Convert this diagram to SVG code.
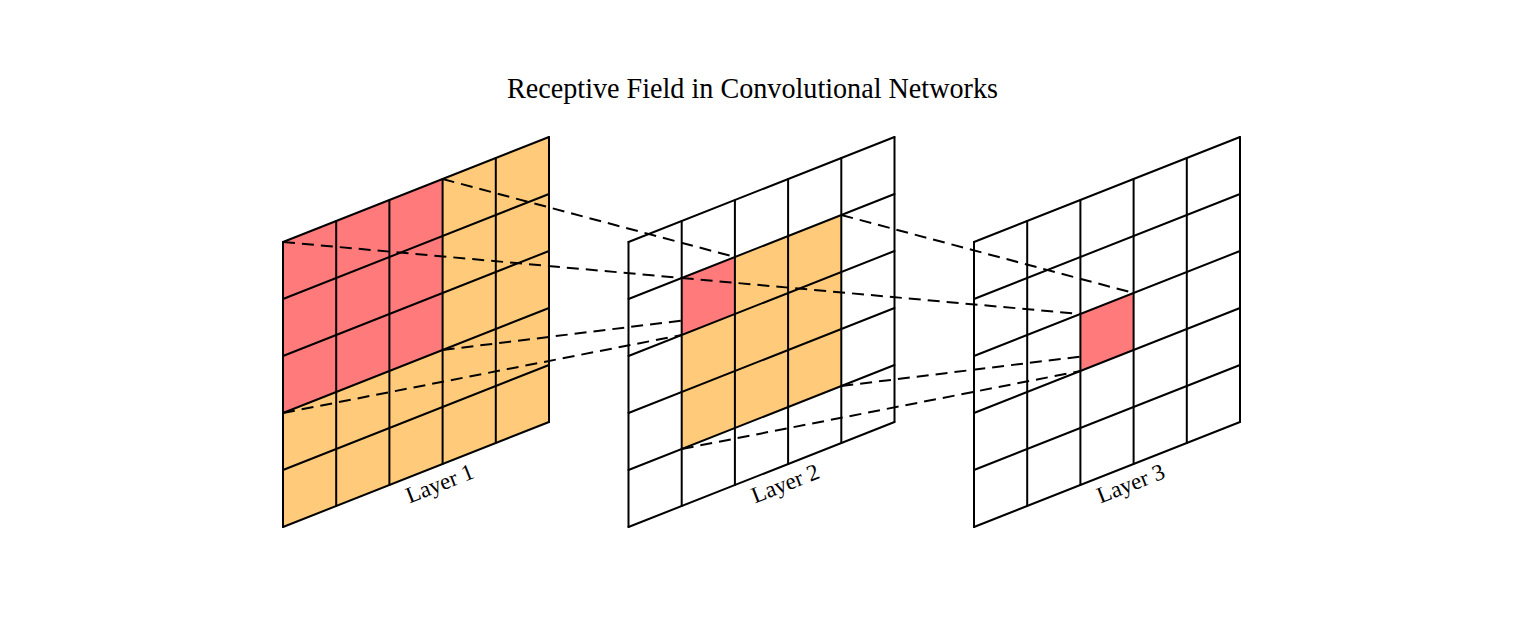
<svg xmlns="http://www.w3.org/2000/svg" width="1518" height="627" viewBox="0 0 1518 627">
<style>
.grid{fill:none;stroke:#000;stroke-width:2;stroke-linecap:round;stroke-linejoin:round}
.red{fill:#FF7B7B;stroke:none}
.org{fill:#FFCB7B;stroke:none}
.dash{fill:none;stroke:#000;stroke-width:2;stroke-dasharray:12 7}
.lbl{font-family:"Liberation Serif","DejaVu Serif",serif;font-size:23px;fill:#000;text-anchor:middle}
.title{font-family:"Liberation Serif","DejaVu Serif",serif;font-size:29px;fill:#000;text-anchor:middle}
</style>
<rect width="1518" height="627" fill="#fff"/>
<text class="title" x="752.5" y="98" textLength="491" lengthAdjust="spacingAndGlyphs">Receptive Field in Convolutional Networks</text>

<g id="layer1">
<polygon class="org" points="283,242 549,137 549,422 283,527"/>
<polygon class="red" points="283,242 442.6,179 442.6,350 283,413"/>
<g class="grid">
<path d="M283,242 L549,137 M283,299 L549,194 M283,356 L549,251 M283,413 L549,308 M283,470 L549,365 M283,527 L549,422"/>
<path d="M283,242 L283,527 M336.2,221 L336.2,506 M389.4,200 L389.4,485 M442.6,179 L442.6,464 M495.8,158 L495.8,443 M549,137 L549,422"/>
</g>
<text class="lbl" transform="translate(440,484) rotate(-21.5)" y="7">Layer 1</text>
</g>

<g id="layer2">
<polygon class="org" points="681.7,278 841.3,215 841.3,386 681.7,449"/>
<polygon class="red" points="681.7,278 734.9,257 734.9,314 681.7,335"/>
<g class="grid">
<path d="M628.5,242 L894.5,137 M628.5,299 L894.5,194 M628.5,356 L894.5,251 M628.5,413 L894.5,308 M628.5,470 L894.5,365 M628.5,527 L894.5,422"/>
<path d="M628.5,242 L628.5,527 M681.7,221 L681.7,506 M734.9,200 L734.9,485 M788.1,179 L788.1,464 M841.3,158 L841.3,443 M894.5,137 L894.5,422"/>
</g>
<text class="lbl" transform="translate(785.5,484) rotate(-21.5)" y="7">Layer 2</text>
</g>

<g id="layer3">
<polygon class="red" points="1080.4,314 1133.6,293 1133.6,350 1080.4,371"/>
<g class="grid">
<path d="M974,242 L1240,137 M974,299 L1240,194 M974,356 L1240,251 M974,413 L1240,308 M974,470 L1240,365 M974,527 L1240,422"/>
<path d="M974,242 L974,527 M1027.2,221 L1027.2,506 M1080.4,200 L1080.4,485 M1133.6,179 L1133.6,464 M1186.8,158 L1186.8,443 M1240,137 L1240,422"/>
</g>
<text class="lbl" transform="translate(1131,484) rotate(-21.5)" y="7">Layer 3</text>
</g>

<g id="connectors">
<path class="dash" d="M442.6,179 L734.9,257"/>
<path class="dash" d="M283,242 L681.7,278"/>
<path class="dash" d="M442.6,350 L681.7,320.6"/>
<path class="dash" d="M283,413 L681.7,335"/>
<path class="dash" d="M841.3,215 L1133.6,293"/>
<path class="dash" d="M681.7,278 L1080.4,314"/>
<path class="dash" d="M841.3,386 L1080.4,356.6"/>
<path class="dash" d="M681.7,449 L1080.4,371"/>
</g>
</svg>
